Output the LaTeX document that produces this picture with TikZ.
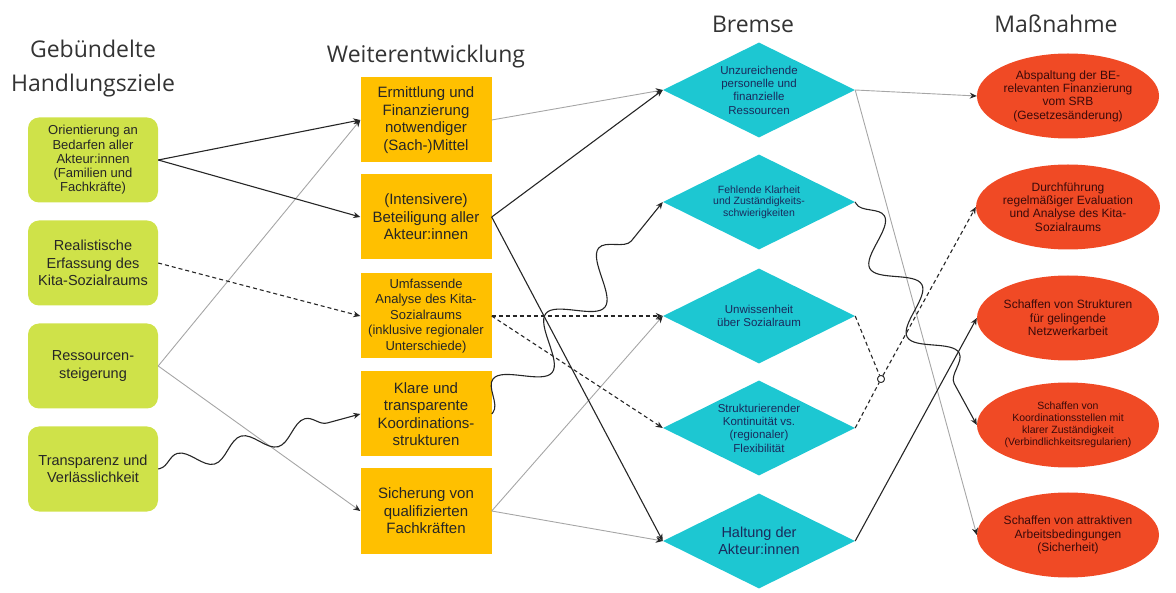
\documentclass[tikz,border=0pt]{standalone}
\usepackage{fontspec}
\setmainfont{Liberation Sans}
\newfontfamily\headfont{Open Sans}
\usetikzlibrary{shapes.geometric,arrows.meta,decorations.pathmorphing}

\definecolor{zielgreen}{HTML}{CFE249}
\definecolor{weiterorange}{HTML}{FFC000}
\definecolor{bremscyan}{HTML}{1DC7D2}
\definecolor{massred}{HTML}{F04A25}
\definecolor{bremstext}{HTML}{1A2A5C}
\definecolor{masstext}{HTML}{3A0A0A}

\newcommand{\fsz}[2]{\fontsize{#1}{#2}\selectfont}

\begin{document}
\begin{tikzpicture}[x=1pt, y=-1pt,
  ziel/.style={rectangle, rounded corners=11pt, fill=zielgreen, text=black!85,
    minimum width=130pt, minimum height=85pt, inner sep=2pt, align=center},
  weiter/.style={rectangle, fill=weiterorange, text=black!85,
    minimum width=131pt, minimum height=85pt, inner sep=2pt, align=center},
  bremse/.style={diamond, shape aspect=2, fill=bremscyan, text=bremstext,
    minimum width=192pt, minimum height=95pt, inner sep=0pt, align=center},
  massn/.style={ellipse, fill=massred, text=masstext,
    minimum width=182pt, minimum height=85pt, inner sep=0pt, align=center},
  head/.style={font=\headfont\fsz{23}{33}, text=black!80, anchor=base},
  arr/.style={-{Stealth[length=7pt,width=6pt]}, line width=1.1pt, draw=black!85},
  faint/.style={-{Stealth[length=7pt,width=6pt,color=black!85]}, line width=0.9pt, draw=black!35},
  dasharr/.style={arr, dash pattern=on 4pt off 3pt},
  wave/.style 2 args={arr, decorate, decoration={snake, amplitude=#1,
    segment length=#2, pre length=2pt, post length=9pt}},
  junction/.style={circle, draw=black!85, fill=white, line width=0.8pt,
    minimum size=7pt, inner sep=0pt}
]
\useasboundingbox (0,0) rectangle (1176,593);

\node[head] (tzielA) at (93,58) {Gebündelte};
\node[head] (tzielB) at (93,92) {Handlungsziele};
\node[head] (tweiter) at (426,63) {Weiterentwicklung};
\node[head] (tbremse) at (753,33) {Bremse};
\node[head] (tmass) at (1056,33) {Maßnahme};

\node[ziel, font=\fsz{13}{14.2}] (orient) at (93,160) {Orientierung an\\Bedarfen aller\\Akteur:innen\\(Familien und\\Fachkräfte)};
\node[ziel, font=\fsz{14.5}{17.5}] (erfass) at (93,263) {Realistische\\Erfassung des\\Kita-Sozialraums};
\node[ziel, font=\fsz{14.5}{17.5}] (ressou) at (93,366) {Ressourcen-\\steigerung};
\node[ziel, font=\fsz{14.5}{17.5}] (transp) at (93,469) {Transparenz und\\Verlässlichkeit};

\node[weiter, font=\fsz{15}{17.5}] (ermitt) at (426,120) {Ermittlung und\\Finanzierung\\notwendiger\\(Sach-)Mittel};
\node[weiter, font=\fsz{15}{17.5}] (beteil) at (426,217) {(Intensivere)\\Beteiligung aller\\Akteur:innen};
\node[weiter, font=\fsz{13}{15.5}] (analys) at (426,316) {Umfassende\\Analyse des Kita-\\Sozialraums\\(inklusive regionaler\\Unterschiede)};
\node[weiter, font=\fsz{15}{17.5}] (koord) at (426,414) {Klare und\\transparente\\Koordinations-\\strukturen};
\node[weiter, font=\fsz{15}{17.5}] (sicher) at (426,511) {Sicherung von\\qualifizierten\\Fachkräften};

\node[bremse, font=\fsz{11.5}{13.3}] (unzur) at (759,90) {Unzureichende\\personelle und\\finanzielle\\Ressourcen};
\node[bremse, font=\fsz{10.5}{11.5}] (klarh) at (759,202) {Fehlende Klarheit\\und Zuständigkeits-\\schwierigkeiten};
\node[bremse, font=\fsz{11.5}{13.3}] (unwiss) at (759,316) {Unwissenheit\\über Sozialraum};
\node[bremse, font=\fsz{11.5}{13.3}] (strukt) at (759,428) {Strukturierender\\Kontinuität vs.\\(regionaler)\\Flexibilität};
\node[bremse, font=\fsz{14.5}{16.7}] (haltung) at (759,541) {Haltung der\\Akteur:innen};

\node[massn, font=\fsz{12}{13.3}] (abspalt) at (1068,96) {Abspaltung der BE-\\relevanten Finanzierung\\vom SRB\\(Gesetzesänderung)};
\node[massn, font=\fsz{12}{13.3}] (evalu) at (1068,207) {Durchführung\\regelmäßiger Evaluation\\und Analyse des Kita-\\Sozialraums};
\node[massn, font=\fsz{12}{13.3}] (netzw) at (1068,318) {Schaffen von Strukturen\\für gelingende\\Netzwerkarbeit};
\node[massn, font=\fsz{10.5}{12}] (stellen) at (1068,425) {Schaffen von\\Koordinationsstellen mit\\klarer Zuständigkeit\\(Verbindlichkeitsregularien)};
\node[massn, font=\fsz{12}{13.3}] (arbeit) at (1068,535) {Schaffen von attraktiven\\Arbeitsbedingungen\\(Sicherheit)};

\draw[faint] (ressou.east) -- (ermitt.west);
\draw[faint] (ressou.east) -- (sicher.west);
\draw[arr] (orient.east) -- (ermitt.west);
\draw[arr] (orient.east) -- (beteil.west);
\draw[dasharr] (erfass.east) -- (analys.west);
\draw[wave={10pt}{66pt}] (transp.east) -- (koord.west);

\draw[faint] (ermitt.east) -- (unzur.west);
\draw[faint] (sicher.east) -- (unwiss.west);
\draw[faint] (sicher.east) -- (haltung.west);
\draw[arr] (beteil.east) -- (unzur.west);
\draw[arr] (beteil.east) -- (haltung.west);
\draw[dasharr] (analys.east) -- (unwiss.west);
\draw[dasharr] (analys.east) -- (strukt.west);
\draw[wave={21pt}{84pt}] (koord.east) -- (klarh.west);

\draw[faint] (unzur.east) -- (abspalt.west);
\draw[faint] (unzur.east) -- (arbeit.west);
\draw[wave={19pt}{78pt}] (klarh.east) -- (stellen.west);
\draw[arr] (haltung.east) -- (netzw.west);
\node[junction] (merge) at (881,379) {};
\draw[dasharr, -] (unwiss.east) -- (merge);
\draw[dasharr] (strukt.east) -- (merge) -- (evalu.west);
\node[junction] at (merge) {};

\end{tikzpicture}
\end{document}
